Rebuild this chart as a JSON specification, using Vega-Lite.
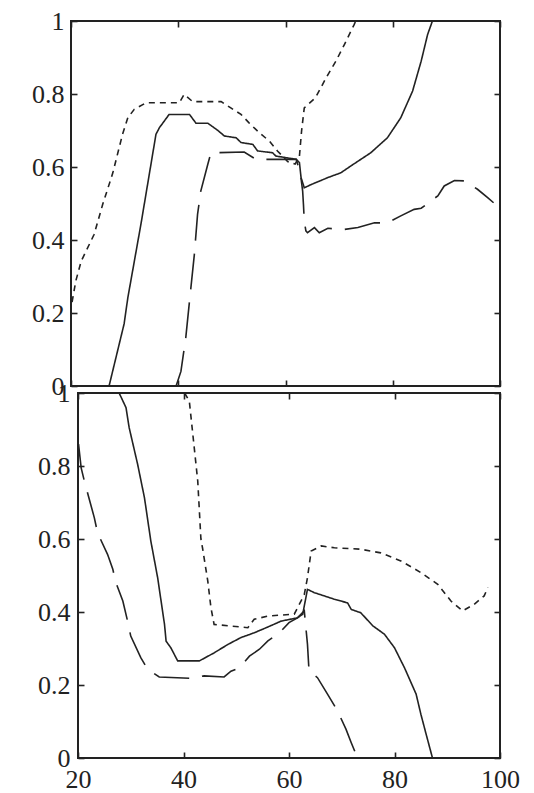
{
  "$schema": "https://vega.github.io/schema/vega-lite/v6.json",
  "padding": {"left": 30, "top": 7, "right": 0, "bottom": 0},
  "background": "white",
  "config": {
    "view": {"stroke": "#222", "strokeWidth": 2},
    "axis": {
      "domain": false,
      "grid": false,
      "title": null,
      "labelFont": "Liberation Serif",
      "labelFontSize": 26,
      "labelColor": "#222",
      "labelFlush": false,
      "labelOverlap": false,
      "format": "~r",
      "tickColor": "#222",
      "tickWidth": 1.6,
      "tickSize": -6,
      "zindex": 1
    },
    "line": {"color": "#222", "strokeWidth": 1.6, "clip": true}
  },
  "datasets": {
    "upper": [
      {"series": "solid", "x": 27.1, "v": 0.0},
      {"series": "solid", "x": 29.9, "v": 0.17},
      {"series": "solid", "x": 30.6, "v": 0.242},
      {"series": "solid", "x": 33.05, "v": 0.444},
      {"series": "solid", "x": 35.85, "v": 0.69},
      {"series": "solid", "x": 36.5, "v": 0.708},
      {"series": "solid", "x": 38.3, "v": 0.744},
      {"series": "solid", "x": 42.1, "v": 0.744},
      {"series": "solid", "x": 43.3, "v": 0.72},
      {"series": "solid", "x": 45.5, "v": 0.72},
      {"series": "solid", "x": 47.4, "v": 0.7},
      {"series": "solid", "x": 48.6, "v": 0.685},
      {"series": "solid", "x": 50.8, "v": 0.68},
      {"series": "solid", "x": 51.7, "v": 0.667},
      {"series": "solid", "x": 53.9, "v": 0.662},
      {"series": "solid", "x": 54.8, "v": 0.644},
      {"series": "solid", "x": 57.6, "v": 0.639},
      {"series": "solid", "x": 58.2, "v": 0.63},
      {"series": "solid", "x": 62.0, "v": 0.621},
      {"series": "solid", "x": 62.6, "v": 0.612},
      {"series": "solid", "x": 62.9, "v": 0.571},
      {"series": "solid", "x": 63.5, "v": 0.543},
      {"series": "solid", "x": 64.8, "v": 0.552},
      {"series": "solid", "x": 67.9, "v": 0.571},
      {"series": "solid", "x": 70.3, "v": 0.584},
      {"series": "solid", "x": 72.2, "v": 0.603},
      {"series": "solid", "x": 75.9, "v": 0.639},
      {"series": "solid", "x": 79.0, "v": 0.68},
      {"series": "solid", "x": 81.5, "v": 0.735},
      {"series": "solid", "x": 83.7, "v": 0.808},
      {"series": "solid", "x": 85.3, "v": 0.89},
      {"series": "solid", "x": 86.5, "v": 0.963},
      {"series": "solid", "x": 87.4, "v": 1.0},

      {"series": "dotted", "x": 20.2, "v": 0.23},
      {"series": "dotted", "x": 20.9, "v": 0.288},
      {"series": "dotted", "x": 21.9, "v": 0.342},
      {"series": "dotted", "x": 24.3, "v": 0.415},
      {"series": "dotted", "x": 25.9, "v": 0.497},
      {"series": "dotted", "x": 27.8, "v": 0.584},
      {"series": "dotted", "x": 29.6, "v": 0.689},
      {"series": "dotted", "x": 30.6, "v": 0.735},
      {"series": "dotted", "x": 31.8, "v": 0.758},
      {"series": "dotted", "x": 34.0, "v": 0.776},
      {"series": "dotted", "x": 40.2, "v": 0.776},
      {"series": "dotted", "x": 41.1, "v": 0.799},
      {"series": "dotted", "x": 42.7, "v": 0.779},
      {"series": "dotted", "x": 48.0, "v": 0.779},
      {"series": "dotted", "x": 49.8, "v": 0.762},
      {"series": "dotted", "x": 51.7, "v": 0.744},
      {"series": "dotted", "x": 53.2, "v": 0.721},
      {"series": "dotted", "x": 55.1, "v": 0.694},
      {"series": "dotted", "x": 57.0, "v": 0.671},
      {"series": "dotted", "x": 58.5, "v": 0.644},
      {"series": "dotted", "x": 60.4, "v": 0.615},
      {"series": "dotted", "x": 61.8, "v": 0.608},
      {"series": "dotted", "x": 62.6, "v": 0.63},
      {"series": "dotted", "x": 63.0, "v": 0.699},
      {"series": "dotted", "x": 63.5, "v": 0.762},
      {"series": "dotted", "x": 65.6, "v": 0.79},
      {"series": "dotted", "x": 67.6, "v": 0.845},
      {"series": "dotted", "x": 69.4, "v": 0.89},
      {"series": "dotted", "x": 71.0, "v": 0.936},
      {"series": "dotted", "x": 72.8, "v": 0.99},
      {"series": "dotted", "x": 73.1, "v": 1.0},

      {"series": "dashed", "x": 39.6, "v": 0.0},
      {"series": "dashed", "x": 40.5, "v": 0.04},
      {"series": "dashed", "x": 41.4, "v": 0.132},
      {"series": "dashed", "x": 42.1, "v": 0.233},
      {"series": "dashed", "x": 43.0, "v": 0.36},
      {"series": "dashed", "x": 43.6, "v": 0.47},
      {"series": "dashed", "x": 44.2, "v": 0.534},
      {"series": "dashed", "x": 45.5, "v": 0.607},
      {"series": "dashed", "x": 46.1, "v": 0.639},
      {"series": "dashed", "x": 52.3, "v": 0.641},
      {"series": "dashed", "x": 54.5, "v": 0.621},
      {"series": "dashed", "x": 62.0, "v": 0.621},
      {"series": "dashed", "x": 62.8, "v": 0.58},
      {"series": "dashed", "x": 63.2, "v": 0.534},
      {"series": "dashed", "x": 63.35, "v": 0.497},
      {"series": "dashed", "x": 63.5, "v": 0.452},
      {"series": "dashed", "x": 63.8, "v": 0.425},
      {"series": "dashed", "x": 64.1, "v": 0.42},
      {"series": "dashed", "x": 65.4, "v": 0.434},
      {"series": "dashed", "x": 66.3, "v": 0.42},
      {"series": "dashed", "x": 67.9, "v": 0.432},
      {"series": "dashed", "x": 71.0, "v": 0.429},
      {"series": "dashed", "x": 73.5, "v": 0.434},
      {"series": "dashed", "x": 76.6, "v": 0.447},
      {"series": "dashed", "x": 79.0, "v": 0.447},
      {"series": "dashed", "x": 81.5, "v": 0.466},
      {"series": "dashed", "x": 84.0, "v": 0.484},
      {"series": "dashed", "x": 85.3, "v": 0.487},
      {"series": "dashed", "x": 88.4, "v": 0.521},
      {"series": "dashed", "x": 89.6, "v": 0.548},
      {"series": "dashed", "x": 91.5, "v": 0.563},
      {"series": "dashed", "x": 93.3, "v": 0.562},
      {"series": "dashed", "x": 95.8, "v": 0.539},
      {"series": "dashed", "x": 97.7, "v": 0.516},
      {"series": "dashed", "x": 98.8, "v": 0.502}
    ],
    "lower": [
      {"series": "solid", "x": 27.8, "v": 1.0},
      {"series": "solid", "x": 29.1, "v": 0.96},
      {"series": "solid", "x": 29.7, "v": 0.905},
      {"series": "solid", "x": 31.3, "v": 0.805},
      {"series": "solid", "x": 32.6, "v": 0.713},
      {"series": "solid", "x": 33.8, "v": 0.595},
      {"series": "solid", "x": 35.1, "v": 0.494},
      {"series": "solid", "x": 36.4, "v": 0.366},
      {"series": "solid", "x": 36.7, "v": 0.32},
      {"series": "solid", "x": 37.6, "v": 0.302},
      {"series": "solid", "x": 38.9, "v": 0.266},
      {"series": "solid", "x": 43.0, "v": 0.266},
      {"series": "solid", "x": 45.8, "v": 0.288},
      {"series": "solid", "x": 48.4, "v": 0.311},
      {"series": "solid", "x": 50.9, "v": 0.33},
      {"series": "solid", "x": 53.4, "v": 0.343},
      {"series": "solid", "x": 56.0, "v": 0.359},
      {"series": "solid", "x": 58.5, "v": 0.375},
      {"series": "solid", "x": 61.6, "v": 0.384},
      {"series": "solid", "x": 62.6, "v": 0.394},
      {"series": "solid", "x": 63.5, "v": 0.462},
      {"series": "solid", "x": 64.8, "v": 0.453},
      {"series": "solid", "x": 68.6, "v": 0.435},
      {"series": "solid", "x": 71.1, "v": 0.425},
      {"series": "solid", "x": 71.8, "v": 0.407},
      {"series": "solid", "x": 73.6, "v": 0.398},
      {"series": "solid", "x": 75.9, "v": 0.362},
      {"series": "solid", "x": 78.1, "v": 0.339},
      {"series": "solid", "x": 80.0, "v": 0.302},
      {"series": "solid", "x": 81.9, "v": 0.247},
      {"series": "solid", "x": 84.1, "v": 0.175},
      {"series": "solid", "x": 85.0, "v": 0.12},
      {"series": "solid", "x": 86.0, "v": 0.065},
      {"series": "solid", "x": 87.2, "v": 0.0},

      {"series": "dotted", "x": 40.2, "v": 1.0},
      {"series": "dotted", "x": 41.1, "v": 0.978},
      {"series": "dotted", "x": 41.7, "v": 0.896},
      {"series": "dotted", "x": 42.7, "v": 0.759},
      {"series": "dotted", "x": 43.3, "v": 0.6},
      {"series": "dotted", "x": 43.6, "v": 0.576},
      {"series": "dotted", "x": 44.6, "v": 0.485},
      {"series": "dotted", "x": 45.2, "v": 0.412},
      {"series": "dotted", "x": 45.8, "v": 0.366},
      {"series": "dotted", "x": 52.2, "v": 0.357},
      {"series": "dotted", "x": 53.4, "v": 0.38},
      {"series": "dotted", "x": 56.0, "v": 0.389},
      {"series": "dotted", "x": 61.0, "v": 0.394},
      {"series": "dotted", "x": 62.9, "v": 0.448},
      {"series": "dotted", "x": 63.5, "v": 0.494},
      {"series": "dotted", "x": 64.2, "v": 0.567},
      {"series": "dotted", "x": 66.1, "v": 0.581},
      {"series": "dotted", "x": 68.6, "v": 0.576},
      {"series": "dotted", "x": 73.6, "v": 0.572},
      {"series": "dotted", "x": 77.4, "v": 0.562},
      {"series": "dotted", "x": 81.2, "v": 0.54},
      {"series": "dotted", "x": 85.0, "v": 0.508},
      {"series": "dotted", "x": 88.2, "v": 0.476},
      {"series": "dotted", "x": 90.7, "v": 0.43},
      {"series": "dotted", "x": 92.9, "v": 0.403},
      {"series": "dotted", "x": 95.1, "v": 0.421},
      {"series": "dotted", "x": 97.0, "v": 0.444},
      {"series": "dotted", "x": 97.7, "v": 0.467},

      {"series": "dashed", "x": 20.1, "v": 0.86},
      {"series": "dashed", "x": 20.6, "v": 0.795},
      {"series": "dashed", "x": 21.2, "v": 0.759},
      {"series": "dashed", "x": 23.1, "v": 0.658},
      {"series": "dashed", "x": 23.7, "v": 0.617},
      {"series": "dashed", "x": 25.6, "v": 0.558},
      {"series": "dashed", "x": 26.6, "v": 0.517},
      {"series": "dashed", "x": 27.2, "v": 0.48},
      {"series": "dashed", "x": 28.5, "v": 0.43},
      {"series": "dashed", "x": 29.4, "v": 0.375},
      {"series": "dashed", "x": 30.0, "v": 0.334},
      {"series": "dashed", "x": 31.9, "v": 0.275},
      {"series": "dashed", "x": 33.2, "v": 0.243},
      {"series": "dashed", "x": 35.4, "v": 0.222},
      {"series": "dashed", "x": 41.7, "v": 0.218},
      {"series": "dashed", "x": 43.9, "v": 0.225},
      {"series": "dashed", "x": 47.7, "v": 0.222},
      {"series": "dashed", "x": 49.0, "v": 0.238},
      {"series": "dashed", "x": 50.6, "v": 0.247},
      {"series": "dashed", "x": 52.5, "v": 0.279},
      {"series": "dashed", "x": 54.4, "v": 0.298},
      {"series": "dashed", "x": 56.0, "v": 0.321},
      {"series": "dashed", "x": 58.2, "v": 0.343},
      {"series": "dashed", "x": 60.0, "v": 0.371},
      {"series": "dashed", "x": 61.6, "v": 0.384},
      {"series": "dashed", "x": 62.9, "v": 0.403},
      {"series": "dashed", "x": 63.2, "v": 0.357},
      {"series": "dashed", "x": 63.5, "v": 0.312},
      {"series": "dashed", "x": 63.8, "v": 0.238},
      {"series": "dashed", "x": 65.4, "v": 0.22},
      {"series": "dashed", "x": 67.3, "v": 0.175},
      {"series": "dashed", "x": 69.2, "v": 0.129},
      {"series": "dashed", "x": 70.8, "v": 0.079},
      {"series": "dashed", "x": 71.8, "v": 0.042},
      {"series": "dashed", "x": 73.0, "v": 0.0}
    ]
  },
  "vconcat": [
    {
      "width": 429,
      "height": 365,
      "data": {"name": "upper"},
      "layer": [
        {
          "mark": "line",
          "encoding": {
            "x": {"field": "x", "type": "quantitative", "scale": {"domain": [20, 100], "nice": false, "zero": false},
                  "axis": {"orient": "bottom", "labels": false, "values": [20, 40, 60, 80, 100]}},
            "y": {"field": "v", "type": "quantitative", "scale": {"domain": [0, 1], "nice": false},
                  "axis": {"orient": "left", "values": [0, 0.2, 0.4, 0.6, 0.8, 1], "labelPadding": 13}},
            "strokeDash": {"field": "series", "type": "nominal",
                           "scale": {"domain": ["solid", "dotted", "dashed"], "range": [[1, 0], [6, 5], [36, 13]]},
                           "legend": null}
          }
        },
        {
          "mark": {"type": "line", "opacity": 0},
          "encoding": {
            "x": {"field": "x", "type": "quantitative",
                  "axis": {"orient": "top", "labels": false, "values": [20, 40, 60, 80, 100]}},
            "y": {"field": "v", "type": "quantitative",
                  "axis": {"orient": "right", "labels": false, "values": [0, 0.2, 0.4, 0.6, 0.8, 1]}},
            "detail": {"field": "series"}
          }
        }
      ],
      "resolve": {"axis": {"x": "independent", "y": "independent"}}
    },
    {
      "hconcat": [
        {
          "width": 1,
          "height": 365,
          "data": {"values": []},
          "mark": {"type": "rule", "opacity": 0},
          "encoding": {},
          "view": {"stroke": null}
        },
        {
          "width": 422,
          "height": 365,
          "data": {"name": "lower"},
          "layer": [
            {
              "mark": "line",
              "encoding": {
                "x": {"field": "x", "type": "quantitative", "scale": {"domain": [20, 100], "nice": false, "zero": false},
                      "axis": {"orient": "bottom", "values": [20, 40, 60, 80, 100], "labelPadding": 14}},
                "y": {"field": "v", "type": "quantitative", "scale": {"domain": [0, 1], "nice": false},
                      "axis": {"orient": "left", "values": [0, 0.2, 0.4, 0.6, 0.8, 1], "labelPadding": 14}},
                "strokeDash": {"field": "series", "type": "nominal",
                               "scale": {"domain": ["solid", "dotted", "dashed"], "range": [[1, 0], [6, 5], [36, 13]]},
                               "legend": null}
              }
            },
            {
              "mark": {"type": "line", "opacity": 0},
              "encoding": {
                "x": {"field": "x", "type": "quantitative",
                      "axis": {"orient": "top", "labels": false, "values": [20, 40, 60, 80, 100]}},
                "y": {"field": "v", "type": "quantitative",
                      "axis": {"orient": "right", "labels": false, "values": [0, 0.2, 0.4, 0.6, 0.8, 1]}},
                "detail": {"field": "series"}
              }
            }
          ],
          "resolve": {"axis": {"x": "independent", "y": "independent"}}
        }
      ],
      "spacing": 6,
      "bounds": "flush"
    }
  ],
  "spacing": 7,
  "bounds": "flush"
}
